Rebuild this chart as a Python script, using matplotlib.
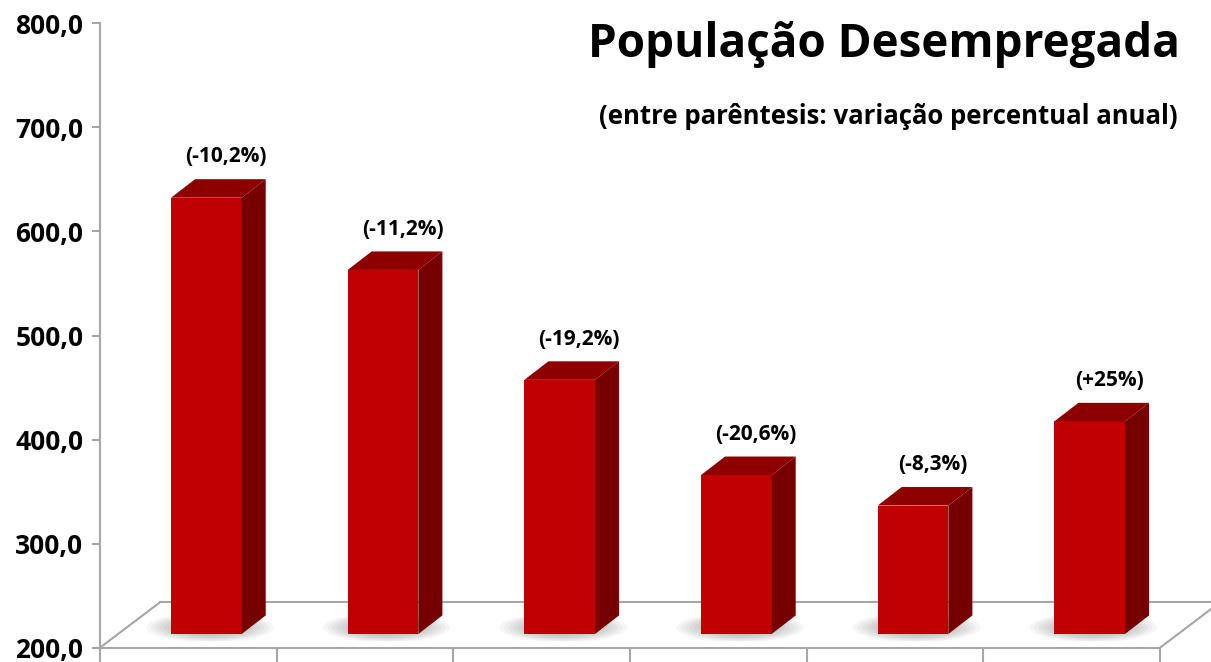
import matplotlib
matplotlib.use("Agg")
import matplotlib.pyplot as plt
from matplotlib.patches import Polygon, Ellipse
import numpy as np

# unemployed population (thousands) and annual change labels
values = [619.2, 549.8, 444.2, 352.7, 323.4, 404.3]
changes = ["(-10,2%)", "(-11,2%)", "(-19,2%)", "(-20,6%)", "(-8,3%)", "(+25%)"]
yticks = [200, 300, 400, 500, 600, 700, 800]

plt.rcParams['font.family'] = ['Open Sans', 'DejaVu Sans']

front_col = "#C00000"
top_col = "#8E0000"
side_col = "#760000"
grid_col = "#A6A6A6"

fig = plt.figure(figsize=(12.11, 6.62), dpi=100)
ax = fig.add_axes([100 / 1211, (662 - 647.7) / 662, 1060 / 1211, (647.7 - 23.3) / 662])
ax.set_xlim(-0.5, 5.5)
ax.set_ylim(200, 800)

# fake 3d: floor depth and bar depth offsets (x in category units, y in value units)
floor_dx, floor_dy = 0.34, 43.7
fx, fy = 0.102, 13.2
bx, by = 0.136, 17.8
w = 0.4
base = 200

x = np.arange(len(values))

# floor outline
ax.plot([-0.5, -0.5 + floor_dx], [base, base + floor_dy], color=grid_col, lw=1.5, clip_on=False)
ax.plot([-0.5 + floor_dx, 5.5 + floor_dx + 0.1], [base + floor_dy, base + floor_dy],
        color=grid_col, lw=1.5, clip_on=False)
ax.plot([5.5, 5.5 + floor_dx], [base, base + floor_dy], color=grid_col, lw=1.5, clip_on=False)

# soft shadows under bars, pushed a bit to the left like the original
for xi in x:
    cx = xi + fx + 0.02
    cy = base + fy + by * 0.35
    for k in range(10):
        s = 1 - k * 0.07
        ax.add_patch(Ellipse((cx, cy), 0.72 * s, 28 * s, color="#505050",
                             alpha=0.05, lw=0, zorder=1))

# front faces
ax.bar(x + fx, np.array(values) - base, bottom=base + fy, width=w,
       color=front_col, zorder=3)

for xi, v, lab in zip(x, values, changes):
    l = xi + fx - w / 2
    r = xi + fx + w / 2
    b = base + fy
    t = v + fy
    side = Polygon([(r, b), (r + bx, b + by), (r + bx, t + by), (r, t)],
                   closed=True, color=side_col, lw=0, zorder=3)
    top = Polygon([(l, t), (r, t), (r + bx, t + by), (l + bx, t + by)],
                  closed=True, color=top_col, lw=0, zorder=3)
    ax.add_patch(side)
    ax.add_patch(top)
    ax.annotate(lab, (xi + fx + 0.11, t + by), xytext=(0, 16), textcoords="offset points",
                ha="center", va="center", fontsize=15, fontweight="bold", color="black")

# axes styling
for s in ["top", "right"]:
    ax.spines[s].set_visible(False)
ax.spines["left"].set_color(grid_col)
ax.spines["left"].set_linewidth(1.5)
ax.spines["bottom"].set_color(grid_col)
ax.spines["bottom"].set_linewidth(1.5)

ax.set_yticks(yticks)
ax.set_yticklabels([f"{t:.1f}".replace(".", ",") for t in yticks],
                   fontsize=19, fontweight="bold")
ax.tick_params(axis="y", length=6, width=1.5, color=grid_col, pad=6)
ax.set_xticks(np.arange(-0.5, 6, 1))
ax.set_xticklabels([])
ax.tick_params(axis="x", length=12, width=1.5, color=grid_col)

fig.text(1180 / 1211, 1 - 45 / 662, "População Desempregada", ha="right", va="center",
         fontsize=33, fontweight="bold")
fig.text(1178 / 1211, 1 - 117 / 662, "(entre parêntesis: variação percentual anual)",
         ha="right", va="center", fontsize=18.5, fontweight="bold")

fig.savefig("out.png", dpi=100)
